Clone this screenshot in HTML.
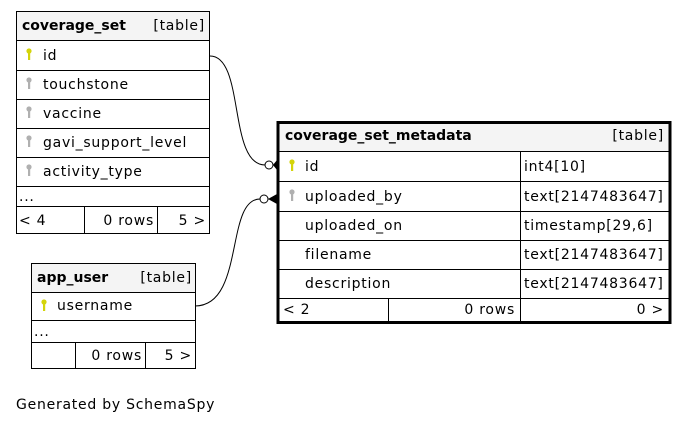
<!DOCTYPE html>
<html><head><meta charset="utf-8"><style>
html,body{margin:0;padding:0;background:#fff;}
svg{display:block;}
text{font-family:"DejaVu Sans","Liberation Sans",sans-serif;font-size:14px;letter-spacing:0.75px;fill:#000;}
.b{font-weight:bold;letter-spacing:0;}
</style></head><body>
<svg width="689" height="424" viewBox="0 0 689 424" xmlns="http://www.w3.org/2000/svg">
<defs>
<g id="kY"><circle cx="0" cy="0" r="2.6" fill="#d4d40a"/><rect x="-1" y="1" width="2.2" height="8" fill="#d4d40a"/></g>
<g id="kG"><circle cx="0" cy="0" r="2.6" fill="#b0b0b0"/><rect x="-1" y="1" width="2.2" height="8" fill="#b0b0b0"/></g>
</defs>

<!-- coverage_set -->
<rect x="16.5" y="11.5" width="193" height="222" fill="#fff" stroke="#000"/>
<rect x="17" y="12" width="192" height="28" fill="#f4f4f4"/>
<g stroke="#000" stroke-width="1">
<line x1="16" y1="40.5" x2="210" y2="40.5"/>
<line x1="16" y1="70.5" x2="210" y2="70.5"/>
<line x1="16" y1="99.5" x2="210" y2="99.5"/>
<line x1="16" y1="128.5" x2="210" y2="128.5"/>
<line x1="16" y1="157.5" x2="210" y2="157.5"/>
<line x1="16" y1="186.5" x2="210" y2="186.5"/>
<line x1="16" y1="206.5" x2="210" y2="206.5"/>
<line x1="84.5" y1="206" x2="84.5" y2="234"/>
<line x1="157.5" y1="206" x2="157.5" y2="234"/>
</g>
<text x="22" y="30" class="b">coverage_set</text>
<text x="205" y="30" text-anchor="end">[table]</text>
<use href="#kY" x="29" y="51"/><text x="43" y="60">id</text>
<use href="#kG" x="29" y="80"/><text x="43" y="89">touchstone</text>
<use href="#kG" x="29" y="109"/><text x="43" y="118">vaccine</text>
<use href="#kG" x="29" y="138"/><text x="43" y="147">gavi_support_level</text>
<use href="#kG" x="29" y="167"/><text x="43" y="176">activity_type</text>
<text x="19" y="201">...</text>
<text x="19" y="225">&lt; 4</text>
<text x="154" y="225" text-anchor="end">0 rows</text>
<text x="206" y="225" text-anchor="end">5 &gt;</text>

<!-- app_user -->
<rect x="31.5" y="263.5" width="164" height="105" fill="#fff" stroke="#000"/>
<rect x="32" y="264" width="163" height="28" fill="#f4f4f4"/>
<g stroke="#000">
<line x1="31" y1="292.5" x2="196" y2="292.5"/>
<line x1="31" y1="320.5" x2="196" y2="320.5"/>
<line x1="31" y1="342.5" x2="196" y2="342.5"/>
<line x1="75.5" y1="342" x2="75.5" y2="369"/>
<line x1="145.5" y1="342" x2="145.5" y2="369"/>
</g>
<text x="37" y="282" class="b">app_user</text>
<text x="192" y="282" text-anchor="end">[table]</text>
<use href="#kY" x="44" y="302"/><text x="57" y="310">username</text>
<text x="34" y="336">...</text>
<text x="142" y="360" text-anchor="end">0 rows</text>
<text x="192" y="360" text-anchor="end">5 &gt;</text>

<!-- coverage_set_metadata -->
<rect x="278" y="122.5" width="392" height="200" fill="#fff" stroke="#000" stroke-width="3"/>
<rect x="279.5" y="124" width="389" height="27" fill="#f4f4f4"/>
<g stroke="#000">
<line x1="278" y1="151.5" x2="670" y2="151.5"/>
<line x1="278" y1="181.5" x2="670" y2="181.5"/>
<line x1="278" y1="211.5" x2="670" y2="211.5"/>
<line x1="278" y1="240.5" x2="670" y2="240.5"/>
<line x1="278" y1="269.5" x2="670" y2="269.5"/>
<line x1="278" y1="298.5" x2="670" y2="298.5"/>
<line x1="520.5" y1="151" x2="520.5" y2="322"/>
<line x1="388.5" y1="298" x2="388.5" y2="322"/>
</g>
<text x="285" y="140" class="b">coverage_set_metadata</text>
<text x="664" y="140" text-anchor="end">[table]</text>
<use href="#kY" x="292" y="162"/><text x="305" y="171">id</text>
<text x="524" y="171">int4[10]</text>
<use href="#kG" x="292" y="192"/><text x="305" y="201">uploaded_by</text>
<text x="524" y="201">text[2147483647]</text>
<text x="305" y="230">uploaded_on</text>
<text x="524" y="230">timestamp[29,6]</text>
<text x="305" y="259">filename</text>
<text x="524" y="259">text[2147483647]</text>
<text x="305" y="288">description</text>
<text x="524" y="288">text[2147483647]</text>
<text x="283" y="314">&lt; 2</text>
<text x="515" y="314" text-anchor="end">0 rows</text>
<text x="664" y="314" text-anchor="end">0 &gt;</text>

<!-- connectors -->
<g fill="none" stroke="#000" stroke-width="1">
<path d="M210,56 C245,56 228,165 265,165"/>
<circle cx="269" cy="165" r="4" fill="#fff"/>
<path d="M195,306 C245,306 225,199 260,199"/>
<circle cx="264" cy="199" r="4" fill="#fff"/>
<line x1="268" y1="199" x2="277" y2="199"/>
</g>
<polygon points="268,199 277,194 277,204" fill="#000"/>
<polygon points="273,165 277,160 277,170" fill="#000"/>

<text x="16" y="409">Generated by SchemaSpy</text>
</svg>
</body></html>
